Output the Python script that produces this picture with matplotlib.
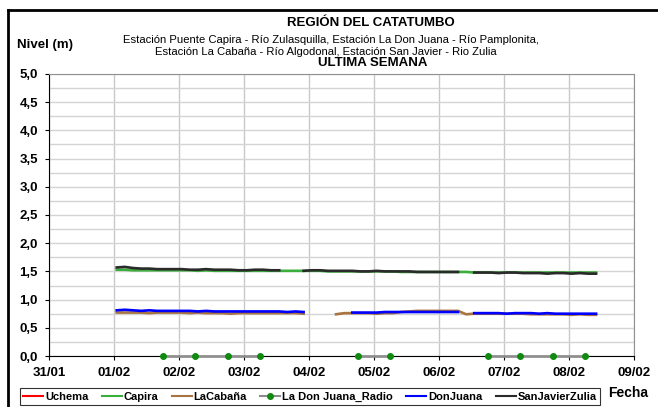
import numpy as np
import pandas as pd
import matplotlib
matplotlib.use('Agg')
import matplotlib.pyplot as plt
import matplotlib.dates as mdates
from matplotlib.ticker import FuncFormatter, MultipleLocator
from matplotlib.lines import Line2D

plt.rcParams['font.family'] = ['Liberation Sans', 'DejaVu Sans']

nan = np.nan

# lecturas cada 3 horas desde 01/02 01:00 hasta 08/02 10:00
times = pd.date_range('2024-02-01 01:00', '2024-02-08 10:00', freq='3h')

uchema = [nan] * 60

capira = [1.53, 1.53, 1.52, 1.52, 1.52, 1.52, 1.52, 1.52,
          1.52, 1.52, 1.51, 1.52, 1.51, 1.51, 1.51, 1.51,
          1.51, 1.51, 1.51, 1.51, 1.51, 1.51, 1.51, 1.51,
          1.51, 1.51, 1.50, 1.50, 1.50, 1.50, 1.50, 1.50,
          1.50, 1.50, 1.50, 1.49, 1.49, 1.49, 1.49, 1.49,
          1.49, 1.49, 1.49, 1.49, 1.48, 1.48, 1.48, 1.48,
          1.48, 1.48, 1.48, 1.48, 1.48, 1.48, 1.48, 1.48,
          1.48, 1.48, 1.48, 1.48]

sanjavier = [1.57, 1.58, 1.56, 1.55, 1.55, 1.54, 1.54, 1.54,
             1.54, 1.53, 1.53, 1.54, 1.53, 1.53, 1.53, 1.52,
             1.52, 1.53, 1.53, 1.52, 1.52, nan, nan, 1.51,
             1.52, 1.52, 1.51, 1.51, 1.51, 1.51, 1.50, 1.50,
             1.51, 1.50, 1.50, 1.50, 1.50, 1.49, 1.49, 1.49,
             1.49, 1.49, 1.49, nan, 1.48, 1.48, 1.48, 1.47,
             1.48, 1.48, 1.47, 1.47, 1.47, 1.46, 1.47, 1.47,
             1.46, 1.47, 1.46, 1.46]

donjuana = [0.81, 0.82, 0.81, 0.80, 0.81, 0.80, 0.80, 0.80,
            0.80, 0.80, 0.79, 0.80, 0.79, 0.79, 0.79, 0.79,
            0.79, 0.79, 0.79, 0.79, 0.79, 0.78, 0.79, 0.78,
            nan, nan, nan, nan, nan, 0.77, 0.77, 0.77,
            0.77, 0.78, 0.78, 0.78, 0.78, 0.78, 0.78, 0.78,
            0.78, 0.78, 0.78, nan, 0.76, 0.76, 0.76, 0.76,
            0.75, 0.76, 0.76, 0.76, 0.75, 0.76, 0.75, 0.75,
            0.75, 0.75, 0.75, 0.75]

lacabana = [0.77, 0.77, 0.77, 0.77, 0.76, 0.77, 0.77, 0.77,
            0.77, 0.76, 0.77, 0.76, 0.76, 0.76, 0.75, 0.76,
            0.76, 0.76, 0.76, 0.76, 0.76, 0.76, 0.76, 0.75,
            nan, nan, nan, 0.74, 0.76, 0.76, 0.76, 0.76,
            0.75, 0.76, 0.76, 0.78, 0.79, 0.80, 0.80, 0.80,
            0.80, 0.80, 0.80, 0.74, 0.75, 0.75, 0.75, 0.75,
            0.75, 0.75, 0.75, 0.74, 0.74, 0.74, 0.74, 0.74,
            0.73, 0.74, 0.73, 0.73]

radio_times = pd.to_datetime(['2024-02-01 18:00', '2024-02-02 06:00', '2024-02-02 18:00',
                              '2024-02-03 06:00', '2024-02-04 00:00', '2024-02-04 18:00',
                              '2024-02-05 06:00', '2024-02-06 00:00', '2024-02-06 18:00',
                              '2024-02-07 06:00', '2024-02-07 18:00', '2024-02-08 06:00'])
radio = [0.0, 0.0, 0.0, 0.0, nan, 0.0, 0.0, nan, 0.0, 0.0, 0.0, 0.0]

fig = plt.figure(figsize=(6.58, 4.07), dpi=100)
ax = fig.add_axes([0.0745, 0.1253, 0.889, 0.6929])

lw = 1.9
ax.plot(times, uchema, color='#ff0000', lw=1, label='Uchema')
ax.plot(times, capira, color='#3cae3c', lw=lw, label='Capira')
ax.plot(times, lacabana, color='#a87440', lw=lw, label='LaCabaña')
ax.plot(radio_times, radio, color='#8c8c8c', lw=lw, marker='o', ms=4,
        mfc='#108a10', mec='#108a10', label='La Don Juana_Radio', clip_on=False, zorder=5)
ax.plot(times, donjuana, color='#0000ff', lw=lw, label='DonJuana')
ax.plot(times, sanjavier, color='#2a2a2a', lw=lw, label='SanJavierZulia')

ax.set_xlim(pd.Timestamp('2024-01-31'), pd.Timestamp('2024-02-09'))
ax.set_ylim(0, 5)
ax.xaxis.set_major_locator(mdates.DayLocator())
ax.xaxis.set_major_formatter(mdates.DateFormatter('%d/%m'))
ax.yaxis.set_major_locator(MultipleLocator(0.5))
ax.yaxis.set_minor_locator(MultipleLocator(0.25))
ax.yaxis.set_major_formatter(FuncFormatter(lambda v, p: ('%.1f' % v).replace('.', ',')))

ax.grid(True, which='major', axis='x', color='#c8c8c8', lw=1)
ax.grid(True, which='both', axis='y', color='#d4d4d4', lw=1)
ax.set_axisbelow(True)
ax.tick_params(axis='both', which='major', direction='out', length=3, width=0.8,
               labelsize=9.5)
ax.tick_params(axis='y', which='major', pad=5)
ax.tick_params(axis='x', which='major', pad=5)
ax.tick_params(axis='y', which='minor', length=0)
for lab in ax.get_xticklabels() + ax.get_yticklabels():
    lab.set_fontweight('bold')
ax.spines['left'].set_color('black')
ax.spines['bottom'].set_color('black')
ax.spines['top'].set_color('#909090')
ax.spines['right'].set_color('#909090')

# titulo
fig.text(371 / 658, 1 - 23 / 407, 'REGIÓN DEL CATATUMBO', ha='center', va='center',
         fontsize=9.5, fontweight='bold')
fig.text(331 / 658, 1 - 40 / 407, 'Estación Puente Capira - Río Zulasquilla, Estación La Don Juana - Río Pamplonita,',
         ha='center', va='center', fontsize=8.1)
fig.text(326 / 658, 1 - 52 / 407, 'Estación La Cabaña - Río Algodonal, Estación San Javier - Rio Zulia',
         ha='center', va='center', fontsize=8.1)
fig.text(373 / 658, 1 - 63 / 407, 'ULTIMA SEMANA', ha='center', va='center',
         fontsize=9.5, fontweight='bold')
fig.text(17 / 658, 1 - 45 / 407, 'Nivel (m)', ha='left', va='center', fontsize=9.5, fontweight='bold')
fig.text(628 / 658, 1 - 393 / 407, 'Fecha', ha='center', va='center', fontsize=10, fontweight='bold')

leg = fig.legend(loc='lower left', bbox_to_anchor=(20 / 658, 2 / 407, 580 / 658, 22 / 407),
                 mode='expand', ncol=6, frameon=True, fancybox=False, edgecolor='black',
                 handlelength=1.8, handletextpad=0.15, columnspacing=0.8,
                 borderpad=0.3, borderaxespad=0, prop={'weight': 'bold', 'size': 8})
leg.get_frame().set_linewidth(0.8)
for l in leg.get_lines():
    l.set_linewidth(1.5)

# marco exterior
fig.add_artist(Line2D([8 / 658, 8 / 658], [0, 1 - 10 / 407], color='black', lw=2))
fig.add_artist(Line2D([8 / 658, 1], [1 - 10 / 407, 1 - 10 / 407], color='black', lw=2))

fig.savefig('out.png', dpi=100)
